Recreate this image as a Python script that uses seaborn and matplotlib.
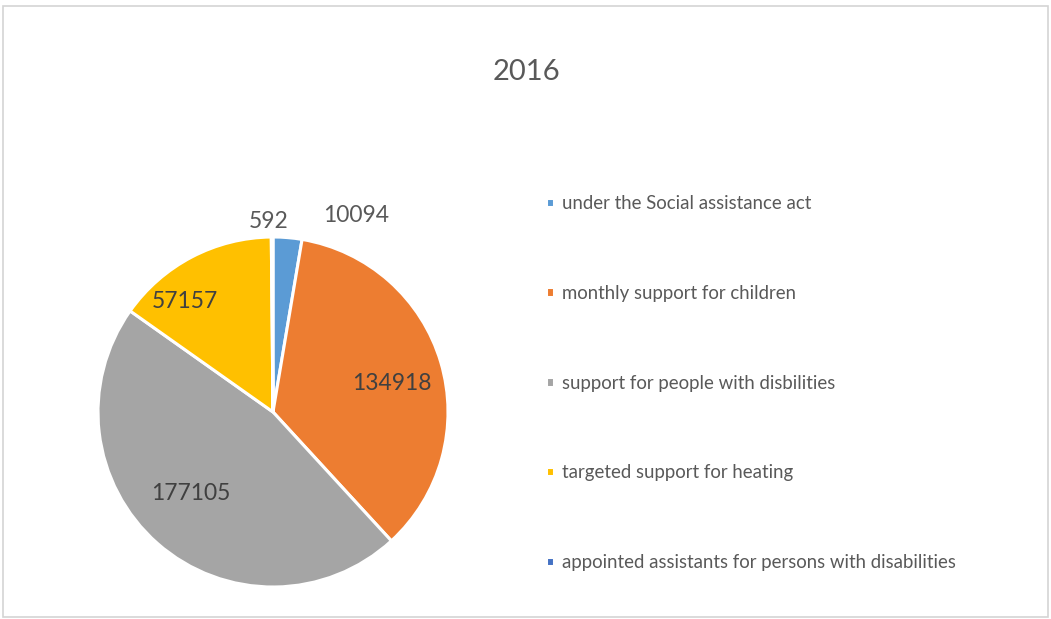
import numpy as np
import matplotlib
matplotlib.use("Agg")
import matplotlib.pyplot as plt
from matplotlib.patches import Rectangle
import seaborn as sns

# Beneficiaries by type of social support, 2016
categories = [
    "under the Social assistance act",
    "monthly support for children",
    "support for people with disbilities",
    "targeted support for heating",
    "appointed assistants for persons with disabilities",
]
values = [10094, 134918, 177105, 57157, 592]
title = "2016"

sns.set_theme(style="white")
plt.rcParams["font.family"] = ["Lato", "DejaVu Sans"]

palette = sns.color_palette(["#5B9BD5", "#ED7D31", "#A5A5A5", "#FFC000", "#4472C4"])

W, H = 1051, 619
fig = plt.figure(figsize=(W / 100, H / 100), dpi=100)
fig.patch.set_facecolor("white")

# chart frame
fig.add_artist(Rectangle((3 / W, 2 / H), (1045 / W), (611 / H), transform=fig.transFigure,
                         fill=False, edgecolor="#D4D4D4", linewidth=1.2))

cx, cy, r = 273, 412, 175
ax = fig.add_axes([(cx - r) / W, (H - cy - r) / H, 2 * r / W, 2 * r / H])
wedges, _ = ax.pie(values, colors=palette, startangle=90, counterclock=False,
                   wedgeprops=dict(edgecolor="white", linewidth=2.2))
ax.set_aspect("equal")
ax.set_xlim(-1, 1)
ax.set_ylim(-1, 1)
ax.axis("off")

# label placement: (radius factor, angle shift in degrees)
placement = [
    (1.22, -18),
    (0.70, -3),
    (0.66, -4),
    (0.81, 11),
    (1.09, 1),
]
for w, v, (rf, dth) in zip(wedges, values, placement):
    mid = np.deg2rad((w.theta1 + w.theta2) / 2 + dth)
    x, y = rf * np.cos(mid), rf * np.sin(mid)
    inside = rf < 1
    ax.text(x, y, f"{v}", ha="center", va="center", fontsize=16.5,
            color="#404040" if inside else "#595959", clip_on=False)

fig.text(526 / W, 1 - 72 / H, title, ha="center", va="center", fontsize=21, color="#595959")

leg = fig.legend(wedges, categories, loc="upper left",
                 bbox_to_anchor=(546 / W, 1 - 195 / H), frameon=False,
                 fontsize=13.4, labelcolor="#595959",
                 handlelength=0.42, handleheight=0.42, handletextpad=0.42,
                 labelspacing=3.91, borderaxespad=0, borderpad=0)

fig.savefig("out.png", dpi=100, facecolor="white")
